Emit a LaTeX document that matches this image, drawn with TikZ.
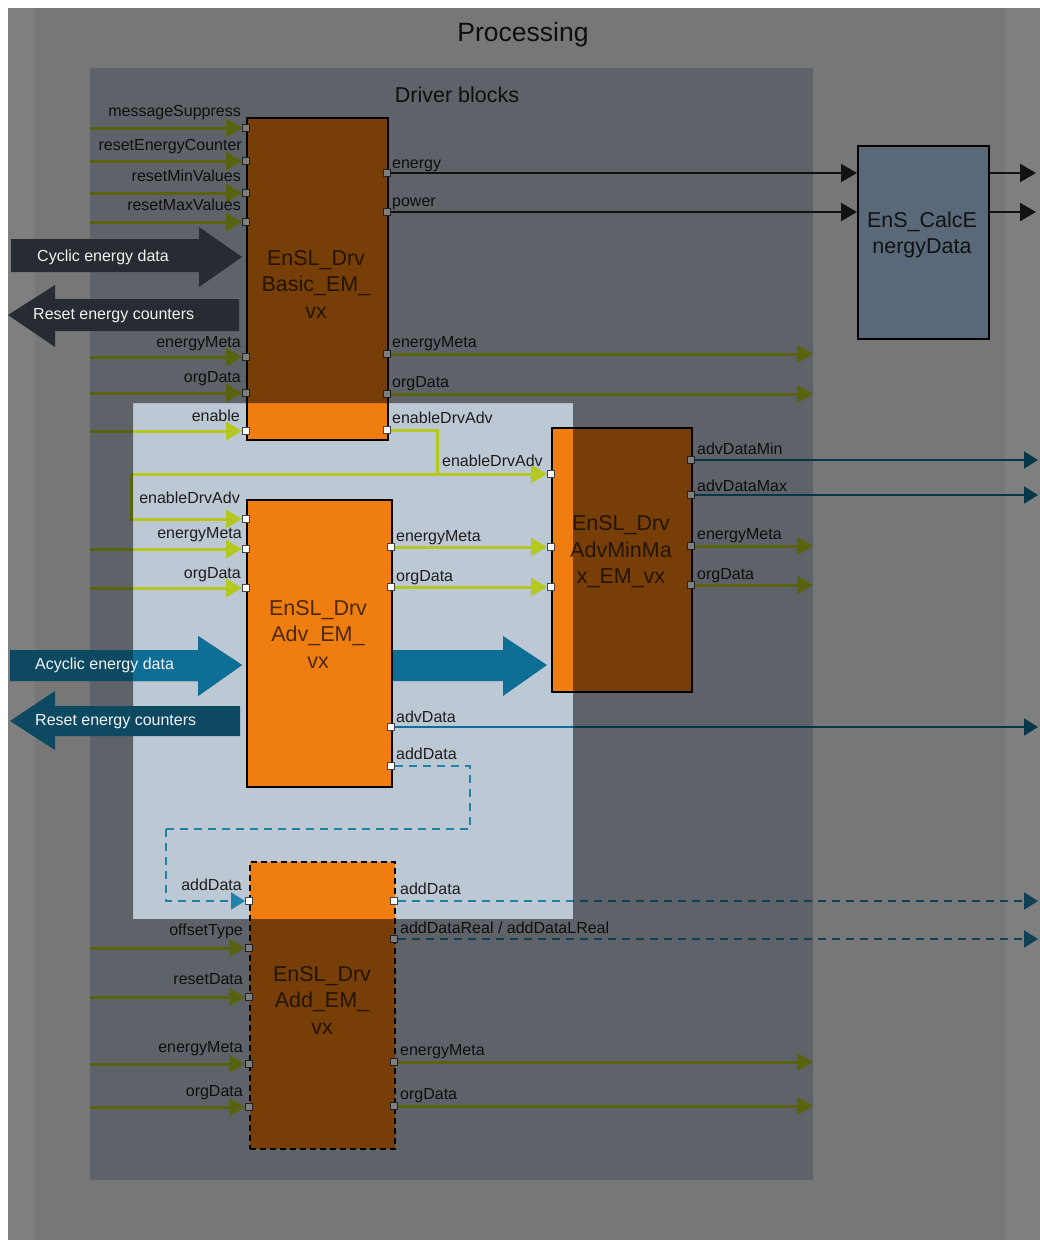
\documentclass[tikz,border=0pt]{standalone}
\usepackage{fontspec}
\setmainfont{Liberation Sans}
\usetikzlibrary{arrows.meta}
\pgfdeclarelayer{bgl}
\pgfdeclarelayer{conn}
\pgfdeclarelayer{ovl}
\pgfdeclarelayer{front}
\pgfsetlayers{bgl,conn,main,ovl,front}
\definecolor{procbg}{HTML}{F0F0F0}
\definecolor{drvbg}{HTML}{BCC8D3}
\definecolor{orng}{HTML}{EF7D10}
\definecolor{grn}{HTML}{B4C820}
\definecolor{blu}{HTML}{0E6E96}
\definecolor{dashblu}{HTML}{2082AA}
\definecolor{dteal}{HTML}{0D4A62}
\definecolor{darkarr}{HTML}{262C31}
\definecolor{calcbg}{HTML}{B6D4F4}
\definecolor{labelc}{HTML}{1E1E1E}
\definecolor{blktextc}{HTML}{4A2A0A}
\definecolor{portc}{HTML}{444444}
\tikzset{
  lbl/.style={font=\fontsize{16}{18}\selectfont, text=labelc, inner sep=0pt},
  lblL/.style={lbl, anchor=base east},
  lblR/.style={lbl, anchor=base west},
  titletxt/.style={font=\fontsize{26.5}{30}\selectfont, text=labelc, inner sep=0pt},
  subtitletxt/.style={font=\fontsize{21.5}{25}\selectfont, text=labelc, inner sep=0pt},
  blk/.style={draw=black, line width=2pt, fill=orng, anchor=north west, inner sep=0pt},
  blktxt/.style={font=\fontsize{21.5}{26.5}\selectfont, align=center, text=blktextc, inner sep=0pt},
  port/.style={draw=portc, fill=white, line width=1pt, minimum size=7pt, inner sep=0pt},
  gline/.style={draw=grn, line width=3pt},
  garrow/.style={gline, -{Triangle[length=16pt,width=18pt]}},
  barrow/.style={draw=blu, line width=2pt, -{Triangle[length=14pt,width=17pt]}},
  dline/.style={draw=dashblu, line width=2.5pt, dash pattern=on 8pt off 6pt},
  darrow/.style={dline, -{Triangle[length=14pt,width=17pt]}},
  karrow/.style={draw=black!85, line width=2pt, -{Triangle[length=16pt,width=18pt]}},
  arrtxt/.style={font=\fontsize{16}{18}\selectfont, text=white!95!black, inner sep=0pt, anchor=west},
}
\begin{document}
\begin{tikzpicture}[x=1pt,y=-1pt]
\useasboundingbox (0,0) rectangle (1040,1240);
\begin{pgfonlayer}{bgl}
\fill[white] (0,0) rectangle (1040,1240);
\fill[procbg] (35,8) rectangle (1005,1240);
\fill[drvbg] (90,68) rectangle (813,1180);
\end{pgfonlayer}
\coordinate (drvL) at (90,0);
\coordinate (drvR) at (813,0);
\coordinate (edgeR) at (1038,0);
\coordinate (calcR) at (1036,0);
\node[titletxt] (proc) at (523,35) {Processing};
\node[subtitletxt] (drv) at (457,95) {Driver blocks};
% blocks
\node[blk, minimum width=141pt, minimum height=322pt] (basic) at (246,117) {};
\node[blk, minimum width=145pt, minimum height=287pt] (adv) at (246,499) {};
\node[blk, minimum width=140pt, minimum height=264pt] (minmax) at (551,427) {};
\node[blk, dash pattern=on 6pt off 4pt, minimum width=145pt, minimum height=287pt] (add) at (249,861) {};
\node[blk, fill=calcbg, line width=1.8pt, minimum width=131pt, minimum height=193pt] (calc) at (857,145) {};
\node[blktxt] (basict) at (316,284) {EnSL\_Drv\\Basic\_EM\_\\vx};
\node[blktxt] (advt) at (318,634) {EnSL\_Drv\\Adv\_EM\_\\vx};
\node[blktxt] (minmaxt) at (621,552) {EnSL\_Drv\\AdvMinMa\\x\_EM\_vx};
\node[blktxt] (addt) at (322,1000) {EnSL\_Drv\\Add\_EM\_\\vx};
\node[blktxt, text=black!85] (calct) at (922,235) {EnS\_CalcE\\nergyData};
% ports
\foreach \n/\y in {1/128,2/161,3/193,4/222,5/357,6/393,7/431} \node[port] (bl\n) at (246,\y) {};
\foreach \n/\y in {1/173,2/212,3/354,4/394,5/430} \node[port] (br\n) at (387,\y) {};
\foreach \n/\y in {1/519,2/549,3/588} \node[port] (al\n) at (246,\y) {};
\foreach \n/\y in {1/547,2/587,3/727,4/766} \node[port] (ar\n) at (391,\y) {};
\foreach \n/\y in {1/474,2/547,3/587} \node[port] (ml\n) at (551,\y) {};
\foreach \n/\y in {1/460,2/495,3/546,4/585} \node[port] (mr\n) at (691,\y) {};
\foreach \n/\y in {1/901,2/948,3/997,4/1064,5/1107} \node[port] (dl\n) at (249,\y) {};
\foreach \n/\y in {1/901,2/939,3/1062,4/1106} \node[port] (dr\n) at (394,\y) {};
% labels
\foreach \t/\x/\y [count=\i] in {messageSuppress/241/116, resetEnergyCounter/242/150, resetMinValues/241/181, resetMaxValues/241/210, energyMeta/241/347, orgData/241/382, enable/240/421, enableDrvAdv/240/503, energyMeta/242/538, orgData/241/578, addData/242/890, offsetType/243/935, resetData/243/984, energyMeta/243/1052, orgData/243/1096}
  \node[lblL] (lL\i) at (\x,\y) {\t};
\foreach \t/\x/\y [count=\i] in {energy/392/168, power/392/206, energyMeta/392/347, orgData/392/387, enableDrvAdv/392/423, enableDrvAdv/442/466, energyMeta/396/541, orgData/396/581, advData/396/722, addData/396/759, advDataMin/697/454, advDataMax/697/491, energyMeta/697/539, orgData/697/579, addData/400/894, energyMeta/400/1055, orgData/400/1099}
  \node[lblR] (lR\i) at (\x,\y) {\t};
\node[lblR] (lRreal) at (400,933) {addDataReal / addDataLReal};
% connectors
\begin{pgfonlayer}{conn}
\foreach \p in {bl1,bl2,bl3,bl4,bl5,bl6,bl7,al2,al3,dl2,dl3,dl4,dl5}
  \draw[garrow] (\p.west -| drvL) -- (\p.west);
\foreach \p in {br3,br4,mr3,mr4,dr3,dr4}
  \draw[garrow] (\p.east) -- (\p.east -| drvR);
\draw[karrow] (br1.east) -- (br1.east -| calc.west);
\draw[karrow] (br2.east) -- (br2.east -| calc.west);
\draw[karrow] (br1.east -| calc.east) -- (br1.east -| calcR);
\draw[karrow] (br2.east -| calc.east) -- (br2.east -| calcR);
\coordinate (j1) at (437,474);
\coordinate (j2) at (131,474);
\draw[gline] (br5.east) -| (j1);
\draw[garrow] (j2) -- (ml1.west);
\draw[garrow] (j2) |- (al1.west);
\draw[garrow] (ar1.east) -- (ml2.west);
\draw[garrow] (ar2.east) -- (ml3.west);
\foreach \p in {ar3,mr1,mr2}
  \draw[barrow] (\p.east) -- (\p.east -| edgeR);
\coordinate (d1) at (470,829);
\coordinate (d2) at (166,829);
\draw[dline] (ar4.east) -| (d1) -- (d2);
\draw[darrow] (d2) |- (dl1.west);
\foreach \p in {dr1,dr2}
  \draw[darrow] (\p.east) -- (\p.east -| edgeR);
\fill[blu] (adv.east |- 0,650) -- (503,650) -- (503,636) -- (547,665) -- (503,696) -- (503,681) -- (adv.east |- 0,681) -- cycle;
\end{pgfonlayer}
% dimming overlay
\begin{pgfonlayer}{ovl}
\fill[black, opacity=0.5, even odd rule] (8,8) rectangle (1040,1240) (133,403) rectangle (573,919);
\end{pgfonlayer}
% big arrows
\begin{pgfonlayer}{front}
\fill[darkarr] (11,239) -- (199,239) -- (199,227) -- (242,257) -- (199,287) -- (199,272) -- (11,272) -- cycle;
\fill[darkarr] (239,299) -- (55,299) -- (55,285) -- (8,315) -- (55,347) -- (55,331) -- (239,331) -- cycle;
\fill[dteal] (10,650) -- (198,650) -- (198,636) -- (242,665) -- (198,696) -- (198,681) -- (10,681) -- cycle;
\begin{scope}
\clip (133,403) rectangle (573,919);
\fill[blu] (10,650) -- (198,650) -- (198,636) -- (242,665) -- (198,696) -- (198,681) -- (10,681) -- cycle;
\end{scope}
\fill[dteal] (240,706) -- (55,706) -- (55,691) -- (10,721) -- (55,750) -- (55,736) -- (240,736) -- cycle;
\node[arrtxt] (cyc) at (37,257) {Cyclic energy data};
\node[arrtxt] (rst1) at (33,316) {Reset energy counters};
\node[arrtxt] (acyc) at (35,665) {Acyclic energy data};
\node[arrtxt] (rst2) at (35,722) {Reset energy counters};
\end{pgfonlayer}
\end{tikzpicture}
\end{document}
